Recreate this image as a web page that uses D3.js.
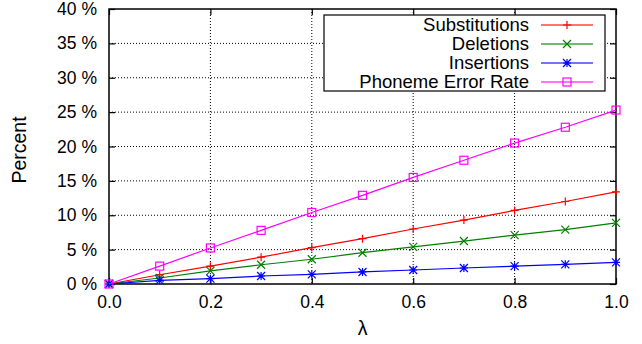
<!DOCTYPE html>
<html>
<head>
<meta charset="utf-8">
<script src="https://cdn.jsdelivr.net/npm/d3@7"></script>
<style>
  body { margin: 0; background: #fff; }
  svg text { font-family: "Liberation Sans", Arial, sans-serif; fill: #000; }
</style>
</head>
<body>
<svg id="chart" width="642" height="344"></svg>
<script>
//  chart data
var lambdas = [0.0, 0.1, 0.2, 0.3, 0.4, 0.5, 0.6, 0.7, 0.8, 0.9, 1.0];
var substitutions = [0, 1.35, 2.6, 3.9, 5.3, 6.6, 8.0, 9.3, 10.7, 12.0, 13.4];
var deletions = [0, 0.87, 1.9, 2.8, 3.6, 4.55, 5.4, 6.25, 7.1, 7.9, 8.9];
var insertions = [0, 0.53, 0.78, 1.16, 1.4, 1.75, 2.04, 2.33, 2.6, 2.86, 3.15];
var phonemeErrorRate = [0, 2.6, 5.24, 7.8, 10.4, 12.9, 15.5, 18.0, 20.5, 22.8, 25.3];
var xTicks = [0, 0.2, 0.4, 0.6, 0.8, 1.0];
var yTicks = [0, 5, 10, 15, 20, 25, 30, 35, 40];

var series = [
    { name: 'Substitutions', values: substitutions, color: '#ff0000', marker: 'plus' },
    { name: 'Deletions', values: deletions, color: '#007f00', marker: 'cross' },
    { name: 'Insertions', values: insertions, color: '#0000ff', marker: 'star' },
    { name: 'Phoneme Error Rate', values: phonemeErrorRate, color: '#ff00ff', marker: 'square' }
];

var tickFont = 17.5, legendFont = 18.5, titleFont = 19.5;
var margin = { left: 109, right: 26, top: 9, bottom: 60 };
var width = 642 - margin.left - margin.right,
    height = 344 - margin.top - margin.bottom;

var svg = d3.select('#chart');
var g = svg.append('g').attr('transform', 'translate(' + margin.left + ',' + margin.top + ')');

var x = d3.scaleLinear().domain([0, 1]).range([0, width]);
var y = d3.scaleLinear().domain([0, 40]).range([height, 0]);

//  grid
g.append('g').selectAll('line').data(xTicks.slice(1, -1)).enter().append('line')
    .attr('x1', function(d) { return x(d); }).attr('x2', function(d) { return x(d); })
    .attr('y1', 0).attr('y2', height)
    .attr('stroke', '#000').attr('stroke-width', 1).attr('stroke-dasharray', '1,2');
g.append('g').selectAll('line').data(yTicks.slice(1, -1)).enter().append('line')
    .attr('y1', function(d) { return y(d); }).attr('y2', function(d) { return y(d); })
    .attr('x1', 0).attr('x2', width)
    .attr('stroke', '#000').attr('stroke-width', 1).attr('stroke-dasharray', '1,2');

//  axes, ticks inside and mirrored
function styleAxis(sel) {
    sel.select('.domain').remove();
    sel.selectAll('.tick line').attr('stroke', '#000').attr('stroke-width', 1.2);
    sel.selectAll('text').attr('font-size', tickFont).attr('fill', '#000');
}
g.append('g').attr('transform', 'translate(0,' + height + ')')
    .call(d3.axisBottom(x).tickValues(xTicks).tickSize(-6).tickPadding(12).tickFormat(d3.format('.1f')))
    .call(styleAxis);
g.append('g')
    .call(d3.axisTop(x).tickValues(xTicks).tickSize(-6).tickFormat(''))
    .call(styleAxis);
g.append('g')
    .call(d3.axisLeft(y).tickValues(yTicks).tickSize(-6).tickPadding(12).tickFormat(function(d) { return d + ' %'; }))
    .call(styleAxis);
g.append('g').attr('transform', 'translate(' + width + ',0)')
    .call(d3.axisRight(y).tickValues(yTicks).tickSize(-6).tickFormat(''))
    .call(styleAxis);

g.append('rect').attr('width', width).attr('height', height)
    .attr('fill', 'none').attr('stroke', '#000').attr('stroke-width', 1.5);

//  markers
function drawMarker(sel, type, color) {
    var s = 4;
    if (type === 'plus') {
        sel.append('path').attr('d', 'M' + (-s) + ',0H' + s + 'M0,' + (-s) + 'V' + s);
    } else if (type === 'cross') {
        sel.append('path').attr('d', 'M' + (-s) + ',' + (-s) + 'L' + s + ',' + s + 'M' + (-s) + ',' + s + 'L' + s + ',' + (-s));
    } else if (type === 'star') {
        sel.append('path').attr('d', 'M' + (-s) + ',0H' + s + 'M0,' + (-s) + 'V' + s +
            'M' + (-s) + ',' + (-s) + 'L' + s + ',' + s + 'M' + (-s) + ',' + s + 'L' + s + ',' + (-s));
    } else {
        sel.append('rect').attr('x', -s).attr('y', -s).attr('width', 2 * s).attr('height', 2 * s);
    }
    sel.selectAll('path, rect').attr('fill', 'none').attr('stroke', color).attr('stroke-width', 1.2);
}

var line = d3.line()
    .x(function(d, i) { return x(lambdas[i]); })
    .y(function(d) { return y(d); });

series.forEach(function(s) {
    g.append('path').datum(s.values)
        .attr('d', line).attr('fill', 'none')
        .attr('stroke', s.color).attr('stroke-width', 1.2);
    s.values.forEach(function(v, i) {
        var m = g.append('g').attr('transform', 'translate(' + x(lambdas[i]) + ',' + y(v) + ')');
        drawMarker(m, s.marker, s.color);
    });
});

//  legend
var legend = svg.append('g').attr('transform', 'translate(324,15)');
legend.append('rect').attr('width', 281).attr('height', 76)
    .attr('fill', '#fff').attr('stroke', '#000').attr('stroke-width', 1.2);
series.forEach(function(s, i) {
    var row = legend.append('g').attr('transform', 'translate(0,' + (10 + i * 19) + ')');
    row.append('text').attr('x', 205).attr('y', 0).attr('dy', '0.35em')
        .attr('text-anchor', 'end').attr('font-size', legendFont).text(s.name);
    row.append('line').attr('x1', 217).attr('x2', 269).attr('y1', 0).attr('y2', 0)
        .attr('stroke', s.color).attr('stroke-width', 2).attr('stroke-opacity', 0.55);
    var m = row.append('g').attr('transform', 'translate(243,0)');
    drawMarker(m, s.marker, s.color);
});

//  axis titles
svg.append('text').attr('x', x(0.5) + margin.left).attr('y', 335)
    .attr('text-anchor', 'middle').attr('font-size', titleFont).text('λ');
svg.append('text').attr('transform', 'translate(26,150) rotate(-90)')
    .attr('text-anchor', 'middle').attr('font-size', titleFont).text('Percent');
</script>
</body>
</html>
